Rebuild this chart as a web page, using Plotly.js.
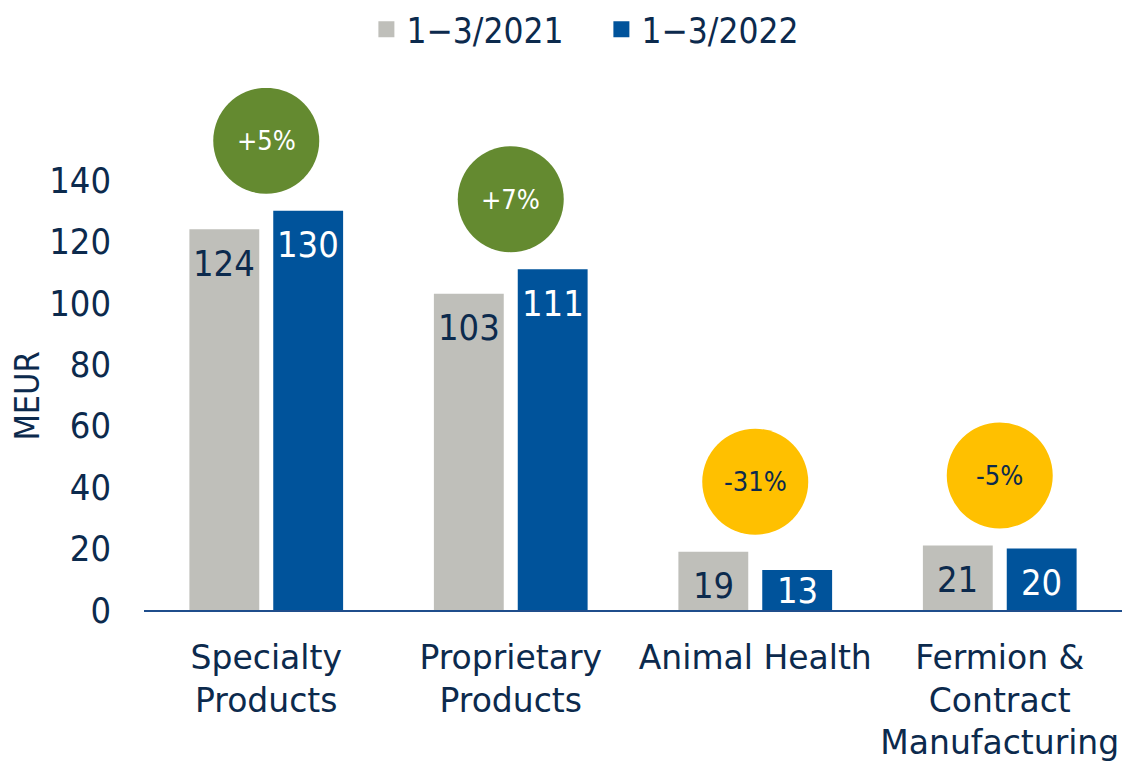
<!DOCTYPE html>
<html>
<head>
<meta charset="utf-8">
<script src="https://cdn.plot.ly/plotly-3.0.1.min.js"></script>
<style>html,body{margin:0;padding:0;background:#fff}#chart{width:1122px;height:763px}</style>
</head>
<body>
<div id="chart"></div>
<script>
var categories = ['Specialty<br>Products', 'Proprietary<br>Products', 'Animal Health', 'Fermion &<br>Contract<br>Manufacturing'];
var seriesNames = ['1−3/2021', '1−3/2022'];
var values2021 = [124, 103, 19, 21];
var values2022 = [130, 111, 13, 20];
var changeLabels = ['+5%', '+7%', '-31%', '-5%'];
var yTickValues = [0, 20, 40, 60, 80, 100, 120, 140];

var NAVY = '#0c2a4d';
var GRAY = '#bfbfba';
var BLUE = '#00539b';
var GREEN = '#648a30';
var YELLOW = '#ffc000';
var FONT = 'DejaVu Sans Condensed';
var FONT_X = 'DejaVu Sans';

var Y_MAX = 170;
var PLOT_H = 522;
var PX_PER_UNIT = PLOT_H / Y_MAX;

var colors = [GRAY, BLUE];
var seriesValues = [values2021, values2022];

var traces = [];
seriesValues.forEach(function (vals, s) {
  traces.push({type: 'bar', name: seriesNames[s], x: categories, y: vals, marker: {color: colors[s]},
    hoverinfo: 'none', showlegend: false});
});
seriesValues.forEach(function (vals, s) {
  traces.push({type: 'scatter', mode: 'markers', name: seriesNames[s], x: [categories[0]], y: [null],
    marker: {symbol: 'square', size: 19, color: colors[s]}, hoverinfo: 'none', showlegend: true});
});

var annotations = [];
var shapes = [];
var CIRCLE_R = 53, CIRCLE_LIFT = 70;
categories.forEach(function (c, i) {
  seriesValues.forEach(function (vals, s) {
    var barPx = vals[i] * PX_PER_UNIT;
    var shift = -Math.min(34, barPx - 19);
    annotations.push({x: i, y: vals[i], xref: 'x', yref: 'y', text: String(vals[i]), showarrow: false,
      xshift: s === 0 ? -42 : 42, yshift: shift, font: {family: FONT, size: 36, color: s === 0 ? NAVY : '#ffffff'}});
  });
  var top = Math.max(values2021[i], values2022[i]);
  var positive = changeLabels[i].charAt(0) === '+';
  shapes.push({type: 'circle', xref: 'x', yref: 'y', xsizemode: 'pixel', ysizemode: 'pixel',
    xanchor: i, yanchor: top, x0: -CIRCLE_R, x1: CIRCLE_R, y0: CIRCLE_LIFT - CIRCLE_R, y1: CIRCLE_LIFT + CIRCLE_R,
    fillcolor: positive ? GREEN : YELLOW, line: {width: 0}});
  annotations.push({x: i, y: top, xref: 'x', yref: 'y', text: changeLabels[i], showarrow: false,
    yshift: CIRCLE_LIFT, font: {family: FONT, size: 27, color: positive ? '#ffffff' : NAVY}});
});
annotations.push({xref: 'paper', yref: 'paper', x: -0.12, y: 0.41, xanchor: 'center', yanchor: 'middle',
  text: 'MEUR', textangle: -90, showarrow: false, font: {family: FONT, size: 34, color: NAVY}});

var layout = {
  width: 1122, height: 763,
  margin: {l: 144, r: 0, t: 88, b: 153},
  paper_bgcolor: '#ffffff', plot_bgcolor: '#ffffff',
  font: {family: FONT, color: NAVY, size: 36},
  barmode: 'group', bargap: 0.314, bargroupgap: 0.167,
  showlegend: true,
  legend: {orientation: 'h', xref: 'container', yref: 'container', x: 0.536, xanchor: 'center', y: 1, yanchor: 'top',
    font: {family: FONT, size: 35, color: NAVY}, itemwidth: 30, entrywidth: 190},
  xaxis: {type: 'category', showgrid: false, zeroline: false, showline: true, linecolor: '#1f4e8c', linewidth: 2,
    ticks: '', ticklabelstandoff: 17, tickfont: {family: FONT_X, size: 33, color: NAVY}, fixedrange: true},
  yaxis: {range: [0, Y_MAX], tickvals: yTickValues, ticktext: yTickValues.map(String), showgrid: false, zeroline: false,
    showline: false, ticks: '', ticklabelstandoff: 32, tickfont: {family: FONT, size: 36, color: NAVY}, fixedrange: true},
  shapes: shapes,
  annotations: annotations
};

Plotly.newPlot('chart', traces, layout, {displayModeBar: false, staticPlot: true});
</script>
</body>
</html>
